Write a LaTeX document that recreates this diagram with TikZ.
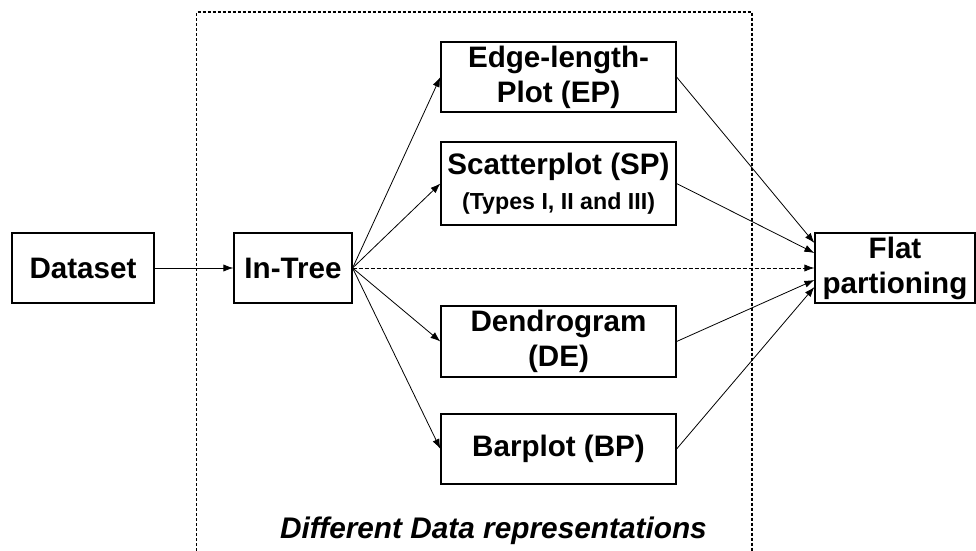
\documentclass[tikz,border=0pt]{standalone}
\usepackage{fontspec}
\setmainfont{Liberation Sans}
\usetikzlibrary{arrows.meta}

\tikzset{
  box/.style={draw, line width=0.6pt, inner sep=0pt, align=center,
    font=\fontsize{14.8}{17.5}\selectfont\bfseries},
  link/.style={->, line width=0.4pt},
}

\begin{document}
\begin{tikzpicture}[x=0.5pt, y=-0.5pt, >={Latex[length=5pt,width=3.6pt]}]
\useasboundingbox (0,0) rectangle (976,551);

% frame of the representations
\draw[line width=0.75pt, dash pattern=on 1.5pt off 1pt]
  (196.5,551)--(196.5,12)--(752,12)--(752,551);
\node[anchor=base, inner sep=0pt] (replabel) at (493.5,538)
  {\fontsize{14.9}{17}\selectfont\bfseries\itshape Different Data representations};

\node[box, minimum width=71pt, minimum height=35pt] (dataset) at (83,268) {Dataset};
\node[box, minimum width=59pt, minimum height=35pt] (intree) at (293,268) {In-Tree};
\node[box, minimum width=80pt, minimum height=35pt] (flat) at (895,268) {Flat\\partioning};

\node[box, minimum width=117.5pt, minimum height=35pt] (ep) at (558.5,77) {Edge-length-\\Plot (EP)};
\node[box, minimum width=117.5pt, minimum height=41.5pt] (sp) at (558.5,183.5)
  {Scatterplot (SP)\\{\fontsize{11.6}{13}\selectfont(Types I, II and III)}};
\node[box, minimum width=117.5pt, minimum height=35.5pt] (de) at (558.5,341.5) {Dendrogram\\(DE)};
\node[box, minimum width=117.5pt, minimum height=35pt] (bp) at (558.5,449) {Barplot (BP)};

\draw[link] (dataset)--(intree);
\draw[link, dash pattern=on 2pt off 1pt] (intree.east)--(flat.west);

\foreach \rep/\shift in {ep/12.5pt, sp/7.5pt, de/-6pt, bp/-9.5pt}
{
    \draw[link] (intree.east)--(\rep.west);
    \draw[link] (\rep.east)--([yshift=\shift]flat.west);
}
\end{tikzpicture}
\end{document}
